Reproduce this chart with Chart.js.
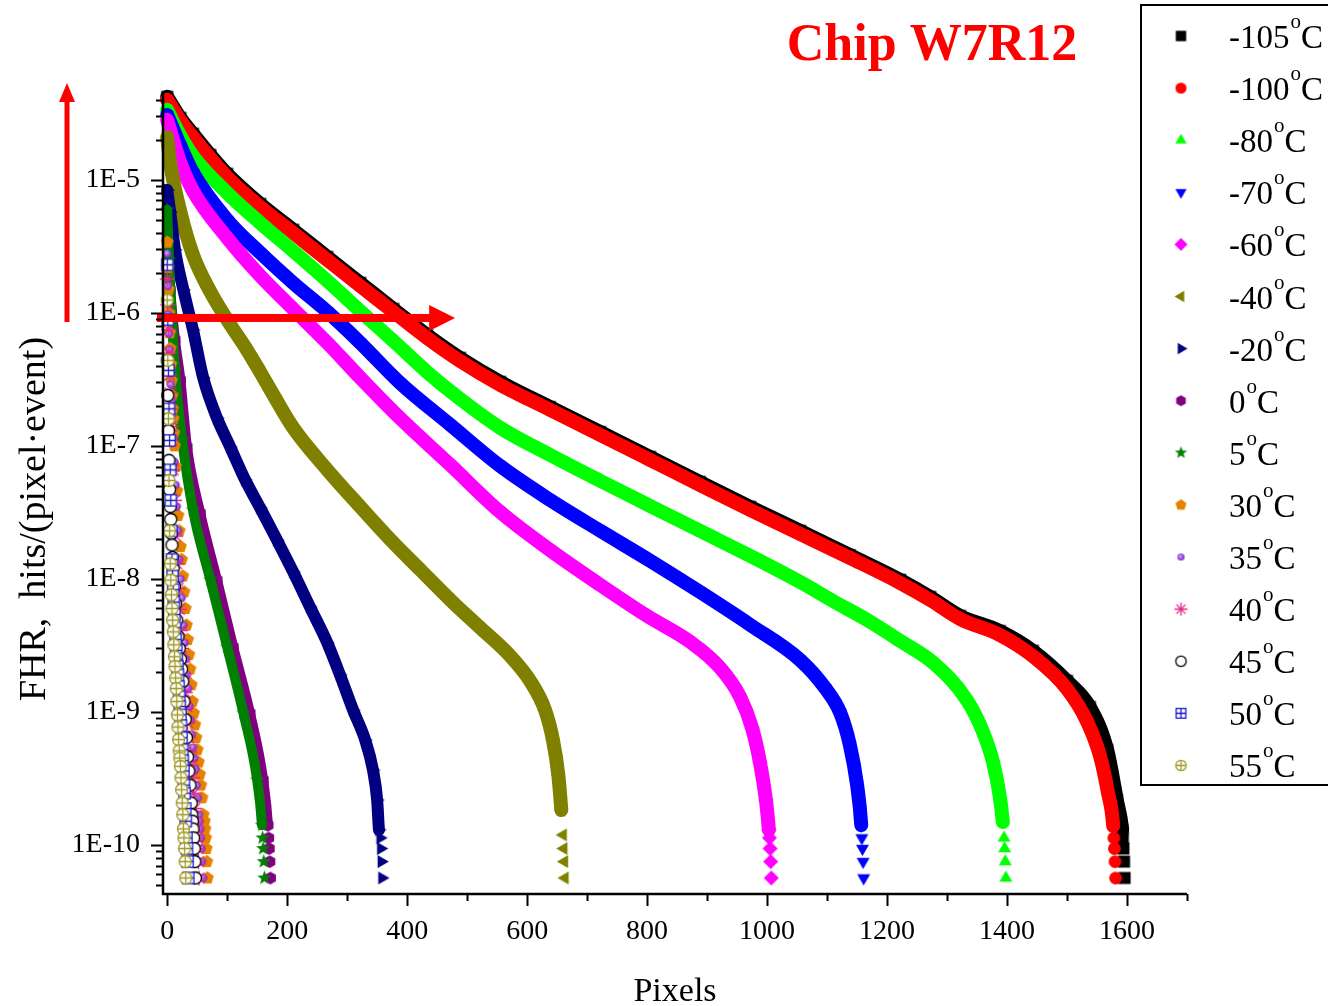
<!DOCTYPE html>
<html>
<head>
<meta charset="utf-8">
<title>Chip W7R12 fake hit rate</title>
<script src="https://cdn.jsdelivr.net/npm/chart.js@4.4.1/dist/chart.umd.min.js"></script>
<style>
  html, body { margin: 0; padding: 0; background: #fff; }
  #wrap { width: 1328px; height: 1006px; }
</style>
</head>
<body>
<div id="wrap"><canvas id="fhrChart" width="1328" height="1006"></canvas></div>
<script>
// FHR per pixel, pixels sorted from noisiest to quietest: [pixel index, hits/(pixel*event)]
const fhrM105 = [[0,4.21e-5],[22,2.92e-5],[43,2.22e-5],[72,1.54e-5],[100,1.11e-5],[155,6.6e-6],[210,4.21e-6],[267,2.63e-6],[322,1.68e-6],[377,1.07e-6],[433,6.83e-7],[488,4.59e-7],[555,3.03e-7],[638,1.96e-7],[722,1.27e-7],[805,8.27e-8],[888,5.36e-8],[972,3.48e-8],[1055,2.3e-8],[1138,1.51e-8],[1222,9.83e-9],[1272,7.32e-9],[1322,5.27e-9],[1388,4.06e-9],[1443,2.88e-9],[1500,1.71e-9],[1538,1.09e-9],[1567,5.18e-10],[1583,2.18e-10],[1592,1.3e-10],[1593,1.13e-10],[1594,9.4e-11],[1595,7.5e-11],[1596,5.65e-11]];
const fhrM100 = [[0,4.0e-5],[22,2.78e-5],[43,2.1e-5],[72,1.46e-5],[100,1.05e-5],[155,6.27e-6],[210,4.0e-6],[267,2.5e-6],[322,1.59e-6],[377,1.02e-6],[433,6.49e-7],[488,4.36e-7],[555,2.88e-7],[638,1.87e-7],[722,1.21e-7],[805,7.85e-8],[888,5.09e-8],[972,3.3e-8],[1055,2.18e-8],[1138,1.44e-8],[1222,9.33e-9],[1272,6.95e-9],[1322,5.0e-9],[1388,3.79e-9],[1443,2.63e-9],[1500,1.49e-9],[1533,8.56e-10],[1555,4.67e-10],[1568,2.5e-10],[1577,1.39e-10],[1578,1.13e-10],[1579,9.4e-11],[1580,7.5e-11],[1581,5.65e-11]];
const fhrM80 = [[0,3.36e-5],[22,2.14e-5],[43,1.51e-5],[100,7.98e-6],[155,4.75e-6],[210,2.92e-6],[267,1.74e-6],[322,1.03e-6],[377,6.16e-7],[433,3.6e-7],[488,2.26e-7],[555,1.37e-7],[638,8.56e-8],[722,5.46e-8],[805,3.54e-8],[888,2.3e-8],[972,1.49e-8],[1055,9.49e-9],[1110,6.83e-9],[1167,4.91e-9],[1222,3.42e-9],[1277,2.34e-9],[1333,1.23e-9],[1360,7.07e-10],[1377,4.14e-10],[1388,2.3e-10],[1393,1.49e-10],[1395,1.13e-10],[1396,9.4e-11],[1397,7.5e-11],[1398,5.65e-11]];
const fhrM70 = [[0,3.08e-5],[22,1.8e-5],[43,1.13e-5],[100,5.0e-6],[155,2.83e-6],[210,1.68e-6],[267,1.02e-6],[322,5.95e-7],[388,2.98e-7],[472,1.44e-7],[555,7.07e-8],[638,3.93e-8],[722,2.3e-8],[805,1.37e-8],[888,7.98e-9],[972,4.51e-9],[1055,2.46e-9],[1097,1.51e-9],[1122,9.83e-10],[1138,5.65e-10],[1150,2.83e-10],[1157,1.41e-10],[1158,1.13e-10],[1159,9.4e-11],[1160,7.5e-11],[1161,5.65e-11]];
const fhrM60 = [[0,2.82e-5],[22,1.34e-5],[43,8.27e-6],[100,3.66e-6],[155,1.9e-6],[210,1.07e-6],[267,5.95e-7],[322,3.25e-7],[388,1.62e-7],[472,7.19e-8],[555,3.19e-8],[638,1.65e-8],[722,9.01e-9],[800,5.27e-9],[872,3.36e-9],[922,2.14e-9],[955,1.3e-9],[975,7.58e-10],[988,4.21e-10],[998,2.18e-10],[1003,1.3e-10],[1004,1.13e-10],[1005,9.4e-11],[1006,7.5e-11],[1007,5.65e-11]];
const fhrM40 = [[0,2.1e-5],[5,1.34e-5],[22,5.75e-6],[43,2.73e-6],[72,1.44e-6],[100,8.86e-7],[133,5.27e-7],[155,3.6e-7],[177,2.42e-7],[210,1.37e-7],[267,6.6e-8],[322,3.48e-8],[377,1.87e-8],[422,1.17e-8],[472,6.95e-9],[522,4.28e-9],[572,2.63e-9],[605,1.71e-9],[630,1.03e-9],[643,6.16e-10],[652,3.36e-10],[657,1.83e-10],[660,1.19e-10],[661,9.4e-11],[662,7.5e-11],[663,5.65e-11]];
const fhrM20 = [[0,8.41e-6],[5,5.75e-6],[13,2.98e-6],[27,1.49e-6],[43,7.45e-7],[60,3.25e-7],[83,1.62e-7],[105,9.83e-8],[130,5.55e-8],[155,3.42e-8],[183,1.96e-8],[210,1.13e-8],[238,6.16e-9],[267,3.3e-9],[288,1.9e-9],[310,1.03e-9],[330,6.16e-10],[343,3.66e-10],[350,2.18e-10],[353,1.3e-10],[355,1.13e-10],[356,9.4e-11],[357,7.5e-11],[358,5.65e-11]];
const fhr0 = [[0,3.54e-6],[5,1.49e-6],[13,6.27e-7],[22,3.13e-7],[33,9.82e-8],[55,3.13e-8],[83,9.82e-9],[110,3.08e-9],[138,9.82e-10],[160,3.08e-10],[168,1.41e-10],[169,1.13e-10],[170,9.4e-11],[171,7.5e-11],[172,5.65e-11]];
const fhr5 = [[0,5.94e-6],[3,2.5e-6],[8,8.85e-7],[13,3.72e-7],[25,1.11e-7],[43,3.3e-8],[72,9.82e-9],[100,3.08e-9],[127,9.82e-10],[150,3.08e-10],[158,1.41e-10],[159,1.13e-10],[160,9.4e-11],[161,7.5e-11],[162,5.65e-11]];
const fhr30 = [[0,3.4e-6],[1,2.2e-6],[2,1.5e-6],[3,1.0e-6],[4,7.1e-7],[5,5.4e-7],[6,4.1e-7],[7,3.1e-7],[8,2.4e-7],[9,1.9e-7],[10,1.6e-7],[11,1.25e-7],[12,1.0e-7],[14,7.0e-8],[16,4.6e-8],[18,3.0e-8],[20,2.3e-8],[22,1.75e-8],[24,1.4e-8],[26,1.05e-8],[28,8.0e-9],[30,6.0e-9],[32,4.5e-9],[34,3.5e-9],[36,2.7e-9],[38,2.1e-9],[40,1.6e-9],[42,1.2e-9],[44,9.8e-10],[46,8.0e-10],[48,6.4e-10],[50,5.2e-10],[52,4.2e-10],[54,3.4e-10],[56,2.82e-10],[58,2.26e-10],[60,1.69e-10],[62,1.51e-10],[63,1.32e-10],[64,1.13e-10],[65,9.4e-11],[66,7.5e-11],[67,5.65e-11]];
const fhr35 = [[0,2.8e-6],[1,1.6e-6],[2,9.7e-7],[3,7.0e-7],[4,5.3e-7],[5,3.9e-7],[6,2.9e-7],[7,2.2e-7],[8,1.7e-7],[10,1.15e-7],[12,7.6e-8],[14,5.1e-8],[16,3.5e-8],[18,2.3e-8],[20,1.4e-8],[22,1.0e-8],[24,7.2e-9],[27,4.5e-9],[29,3.3e-9],[31,2.5e-9],[33,1.9e-9],[35,1.5e-9],[37,1.1e-9],[39,8.7e-10],[41,6.8e-10],[43,5.4e-10],[45,4.5e-10],[47,3.7e-10],[49,2.82e-10],[51,2.26e-10],[53,1.69e-10],[54,1.51e-10],[55,1.32e-10],[56,1.13e-10],[57,9.4e-11],[58,7.5e-11],[60,5.65e-11]];
const fhr40 = [[0,1.8e-6],[1,1.15e-6],[2,7.5e-7],[3,5.0e-7],[4,3.4e-7],[5,2.5e-7],[6,1.9e-7],[7,1.4e-7],[8,1.1e-7],[10,6.6e-8],[12,3.9e-8],[14,2.1e-8],[16,1.3e-8],[18,8.5e-9],[20,5.9e-9],[22,4.1e-9],[24,3.0e-9],[26,2.4e-9],[28,1.8e-9],[30,1.4e-9],[32,1.1e-9],[34,8.3e-10],[36,6.4e-10],[38,5.0e-10],[40,4.0e-10],[42,3.2e-10],[44,2.45e-10],[46,1.88e-10],[48,1.51e-10],[49,1.32e-10],[50,1.13e-10],[51,9.4e-11],[52,7.5e-11],[53,5.65e-11]];
const fhr45 = [[0,4.4e-7],[1,2.4e-7],[2,1.3e-7],[3,7.8e-8],[4,4.7e-8],[5,3.5e-8],[6,2.8e-8],[7,2.2e-8],[8,1.8e-8],[9,1.45e-8],[10,1.2e-8],[12,8.8e-9],[14,6.5e-9],[16,4.9e-9],[18,3.7e-9],[20,3.0e-9],[22,2.5e-9],[24,2.1e-9],[26,1.7e-9],[28,1.2e-9],[30,8.8e-10],[32,6.4e-10],[34,4.6e-10],[36,3.6e-10],[38,2.82e-10],[40,2.07e-10],[41,1.69e-10],[42,1.51e-10],[43,1.32e-10],[44,1.13e-10],[45,9.4e-11],[46,7.5e-11],[47,5.65e-11]];
const fhr50 = [[0,2.3e-6],[1,8.9e-7],[2,3.7e-7],[3,1.9e-7],[4,1.1e-7],[5,6.6e-8],[6,3.9e-8],[7,2.3e-8],[8,1.4e-8],[9,1.05e-8],[10,8.3e-9],[11,6.7e-9],[12,5.4e-9],[13,4.3e-9],[14,3.5e-9],[15,2.9e-9],[16,2.5e-9],[17,2.2e-9],[18,1.9e-9],[19,1.55e-9],[20,1.3e-9],[21,1.1e-9],[22,9.5e-10],[23,7.9e-10],[24,6.4e-10],[25,5.2e-10],[26,4.3e-10],[27,3.6e-10],[28,2.82e-10],[29,2.45e-10],[30,1.88e-10],[31,1.51e-10],[32,1.13e-10],[33,9.4e-11],[34,7.5e-11],[35,5.65e-11]];
const fhr55 = [[0,1.25e-6],[1,4.4e-7],[2,1.6e-7],[3,5.5e-8],[4,2.3e-8],[5,1.3e-8],[6,9.8e-9],[7,7.6e-9],[8,6.0e-9],[9,4.9e-9],[10,4.0e-9],[11,3.2e-9],[12,2.6e-9],[13,2.2e-9],[14,1.8e-9],[15,1.5e-9],[16,1.2e-9],[17,9.5e-10],[18,7.7e-10],[19,6.2e-10],[20,5.1e-10],[21,4.5e-10],[22,3.9e-10],[23,3.2e-10],[24,2.6e-10],[25,2.07e-10],[26,1.69e-10],[27,1.32e-10],[28,1.13e-10],[29,9.4e-11],[30,7.5e-11],[31,5.65e-11]];

const temps = [-105, -100, -80, -70, -60, -40, -20, 0, 5, 30, 35, 40, 45, 50, 55];
const xTicks = [0, 200, 400, 600, 800, 1000, 1200, 1400, 1600];
const yTicks = [1e-10, 1e-9, 1e-8, 1e-7, 1e-6, 1e-5];

const fhrSeries = [fhrM105, fhrM100, fhrM80, fhrM70, fhrM60, fhrM40, fhrM20, fhr0, fhr5, fhr30, fhr35, fhr40, fhr45, fhr50, fhr55];

// one colour / symbol / band width per temperature
const colors = ['#000000', '#ff0000', '#00ff00', '#0000ff', '#ff00ff', '#808000', '#000080', '#800080', '#008000',
                '#e68200', '#7a1fc8', '#e5268c', '#000000', '#1c1cc8', '#a09a28'];
const shapes = ['square', 'circle', 'up', 'down', 'diamond', 'left', 'right', 'hexagon', 'star',
                'pentagon', 'sphere', 'asterisk', 'ring', 'boxplus', 'circplus'];
const bandWidth = [14, 14, 14, 14, 14, 14, 12, 10, 10, 0, 0, 0, 0, 0, 0];

const FONT = '"Liberation Serif", "Times New Roman", serif';

// draws a symbol into a small canvas so it can be used as a pointStyle
function makeMarker(shape, color, size) {
    const c = document.createElement('canvas');
    c.width = size;
    c.height = size;
    const g = c.getContext('2d');
    const m = size / 2;
    const r = m - 1;
    g.fillStyle = color;
    g.strokeStyle = color;
    g.lineWidth = 1.3;

    const poly = (n, rad, start) => {
        g.beginPath();
        for (let k = 0; k < n; k++) {
            const a = start + k * 2 * Math.PI / n;
            g.lineTo(m + rad * Math.cos(a), m + rad * Math.sin(a));
        }
        g.closePath();
    };

    switch (shape) {
        case 'square': g.fillRect(m - r * 0.8, m - r * 0.8, r * 1.6, r * 1.6); break;
        case 'circle': g.beginPath(); g.arc(m, m, r * 0.85, 0, 2 * Math.PI); g.fill(); break;
        case 'up': poly(3, r, -Math.PI / 2); g.fill(); break;
        case 'down': poly(3, r, Math.PI / 2); g.fill(); break;
        case 'left': poly(3, r, Math.PI); g.fill(); break;
        case 'right': poly(3, r, 0); g.fill(); break;
        case 'diamond': poly(4, r, 0); g.fill(); break;
        case 'hexagon': poly(6, r * 0.85, -Math.PI / 2); g.fill(); break;
        case 'pentagon': poly(5, r * 0.9, -Math.PI / 2); g.fill(); break;
        case 'star': {
            g.beginPath();
            for (let k = 0; k < 10; k++) {
                const a = -Math.PI / 2 + k * Math.PI / 5;
                const rr = k % 2 ? r * 0.42 : r;
                g.lineTo(m + rr * Math.cos(a), m + rr * Math.sin(a));
            }
            g.closePath();
            g.fill();
            break;
        }
        case 'sphere': {
            const grad = g.createRadialGradient(m - 1, m - 1, 0.5, m, m, r * 0.55);
            grad.addColorStop(0, '#c9a0ff');
            grad.addColorStop(1, color);
            g.fillStyle = grad;
            g.beginPath(); g.arc(m, m, r * 0.55, 0, 2 * Math.PI); g.fill();
            break;
        }
        case 'asterisk': {
            g.beginPath();
            for (let k = 0; k < 4; k++) {
                const a = k * Math.PI / 4;
                g.moveTo(m - r * Math.cos(a), m - r * Math.sin(a));
                g.lineTo(m + r * Math.cos(a), m + r * Math.sin(a));
            }
            g.stroke();
            break;
        }
        case 'ring':
            g.beginPath(); g.arc(m, m, r * 0.8, 0, 2 * Math.PI);
            g.fillStyle = '#fff'; g.fill(); g.stroke();
            break;
        case 'boxplus': {
            const h = r * 0.75;
            g.fillStyle = '#fff';
            g.fillRect(m - h, m - h, 2 * h, 2 * h);
            g.strokeRect(m - h, m - h, 2 * h, 2 * h);
            g.beginPath();
            g.moveTo(m - h, m); g.lineTo(m + h, m);
            g.moveTo(m, m - h); g.lineTo(m, m + h);
            g.stroke();
            break;
        }
        case 'circplus': {
            const h = r * 0.8;
            g.beginPath(); g.arc(m, m, h, 0, 2 * Math.PI);
            g.fillStyle = '#fff'; g.fill(); g.stroke();
            g.beginPath();
            g.moveTo(m - h, m); g.lineTo(m + h, m);
            g.moveTo(m, m - h); g.lineTo(m, m + h);
            g.stroke();
            break;
        }
    }
    return c;
}

// bigger symbols on the curves, smaller ones in the legend box
const markers = shapes.map((s, i) => makeMarker(s, colors[i], 17));
const legendMarkers = shapes.map((s, i) => makeMarker(s, colors[i], 15));

const datasets = fhrSeries.map((pts, i) => ({
    label: temps[i] + '°C',
    data: pts.map(p => ({ x: p[0], y: p[1] })),
    showLine: bandWidth[i] > 0,
    borderColor: colors[i],
    backgroundColor: colors[i],
    borderWidth: bandWidth[i],
    borderJoinStyle: 'round',
    borderCapStyle: 'round',
    cubicInterpolationMode: 'monotone',
    pointStyle: markers[i],
    pointRadius: 7,
    order: fhrSeries.length - i,
    clip: false,
    // the last few low-count levels are shown as separate symbols
    segment: {
        borderColor: ctx => ctx.p1.parsed.y < 1.2e-10 ? 'rgba(0,0,0,0)' : colors[i]
    }
}));

function drawArrow(ctx, x0, y0, x1, y1, shaft, headLen, headHalf) {
    const ang = Math.atan2(y1 - y0, x1 - x0);
    const len = Math.hypot(x1 - x0, y1 - y0);
    ctx.save();
    ctx.translate(x0, y0);
    ctx.rotate(ang);
    ctx.fillStyle = '#ff0000';
    ctx.fillRect(0, -shaft / 2, len - headLen + 1, shaft);
    ctx.beginPath();
    ctx.moveTo(len, 0);
    ctx.lineTo(len - headLen, -headHalf);
    ctx.lineTo(len - headLen, headHalf);
    ctx.closePath();
    ctx.fill();
    ctx.restore();
}

// arrows over the data
const arrowPlugin = {
    id: 'arrows',
    afterDatasetsDraw(chart) {
        const ctx = chart.ctx;
        const xs = chart.scales.x, ys = chart.scales.y;
        const yArrow = ys.getPixelForValue(9.16e-7);
        drawArrow(ctx, xs.getPixelForValue(-17), yArrow, xs.getPixelForValue(480), yArrow, 8, 26, 13);
        drawArrow(ctx, 67, 322, 67, 83, 5, 19, 8);
    }
};

// axes with minor ticks, titles and the boxed legend
const framePlugin = {
    id: 'frame',
    afterDraw(chart) {
        const ctx = chart.ctx;
        const area = chart.chartArea;
        const xs = chart.scales.x, ys = chart.scales.y;
        ctx.save();
        ctx.strokeStyle = '#000';
        ctx.lineWidth = 2.5;
        ctx.beginPath();
        ctx.moveTo(area.left, area.top);
        ctx.lineTo(area.left, area.bottom);
        ctx.lineTo(area.right, area.bottom);
        ctx.stroke();

        ctx.lineWidth = 2;
        ctx.beginPath();
        for (let e = -11; e <= -5; e++) {
            for (let mnt = 1; mnt <= 9; mnt++) {
                const v = mnt * Math.pow(10, e);
                if (v < ys.min || v > ys.max) continue;
                const py = Math.round(ys.getPixelForValue(v)) + 0.5;
                ctx.moveTo(area.left, py);
                ctx.lineTo(area.left - (mnt === 1 ? 12 : 7), py);
            }
        }
        for (let v = 0; v <= 1700; v += 100) {
            const px = Math.round(xs.getPixelForValue(v)) + 0.5;
            ctx.moveTo(px, area.bottom);
            ctx.lineTo(px, area.bottom + (v % 200 === 0 ? 12 : 7));
        }
        ctx.stroke();

        // axis titles
        ctx.fillStyle = '#000';
        ctx.font = '34px ' + FONT;
        ctx.textAlign = 'center';
        ctx.textBaseline = 'alphabetic';
        ctx.fillText('Pixels', (area.left + area.right) / 2, 1001);

        ctx.save();
        ctx.translate(45, 519);
        ctx.rotate(-Math.PI / 2);
        ctx.font = '38px ' + FONT;
        ctx.fillText('FHR,  hits/(pixel\u00b7event)', 0, 0);
        ctx.restore();

        // chart title
        ctx.fillStyle = '#ff0000';
        ctx.font = 'bold 52px ' + FONT;
        ctx.fillText('Chip W7R12', 932, 60);

        // legend
        ctx.lineWidth = 2;
        ctx.strokeStyle = '#000';
        ctx.strokeRect(1141, 5, 200, 780);
        ctx.textAlign = 'left';
        ctx.fillStyle = '#000';
        temps.forEach((t, i) => {
            const yc = 36 + 52.1 * i;
            const mk = legendMarkers[i];
            ctx.drawImage(mk, 1181 - mk.width / 2, yc - mk.height / 2);
            let x = 1229;
            ctx.font = '33px ' + FONT;
            const num = String(t);
            ctx.fillText(num, x, yc + 12);
            x += ctx.measureText(num).width + 1;
            ctx.font = '21px ' + FONT;
            ctx.fillText('o', x, yc - 8);
            x += ctx.measureText('o').width;
            ctx.font = '33px ' + FONT;
            ctx.fillText('C', x, yc + 12);
        });
        ctx.restore();
    }
};

new Chart(document.getElementById('fhrChart').getContext('2d'), {
    type: 'line',
    data: { datasets: datasets },
    options: {
        responsive: false,
        animation: false,
        devicePixelRatio: 1,
        events: [],
        layout: { padding: { top: 93, right: 141, left: 0, bottom: 0 } },
        plugins: {
            legend: { display: false },
            tooltip: { enabled: false },
            title: { display: false }
        },
        scales: {
            x: {
                type: 'linear',
                min: -7,
                max: 1700,
                grid: { display: false, drawTicks: false },
                border: { display: false },
                afterBuildTicks: s => { s.ticks = xTicks.map(v => ({ value: v })); },
                afterFit: s => { s.height = 112; },
                ticks: {
                    padding: 21,
                    color: '#000',
                    autoSkip: false,
                    maxRotation: 0,
                    font: { family: FONT, size: 28 },
                    callback: v => String(v)
                }
            },
            y: {
                type: 'logarithmic',
                min: 4.28e-11,
                max: 4.5e-5,
                grid: { display: false, drawTicks: false },
                border: { display: false },
                afterBuildTicks: s => { s.ticks = yTicks.map(v => ({ value: v })); },
                afterFit: s => { s.width = 163; },
                ticks: {
                    padding: 23,
                    color: '#000',
                    autoSkip: false,
                    font: { family: FONT, size: 28 },
                    callback: v => '1E' + Math.round(Math.log10(v))
                }
            }
        }
    },
    plugins: [arrowPlugin, framePlugin]
});
</script>
</body>
</html>
